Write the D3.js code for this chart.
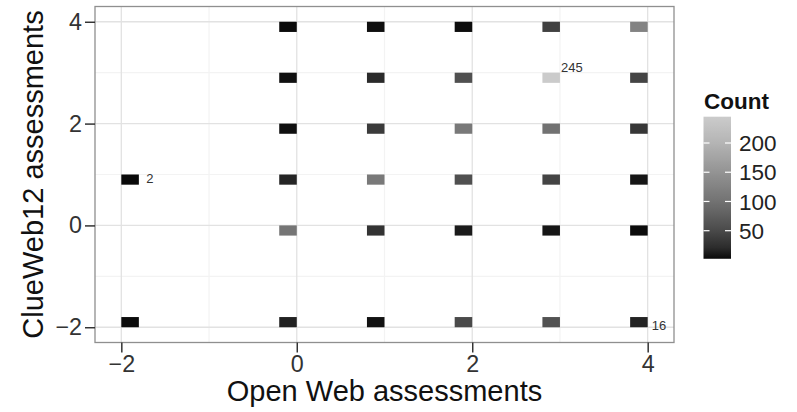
<!DOCTYPE html>
<html>
<head>
<meta charset="utf-8">
<script src="https://cdn.jsdelivr.net/npm/d3@7"></script>
<style>
  html, body { margin: 0; padding: 0; background: #fff; }
  svg { display: block; font-family: "Liberation Sans", Arial, Helvetica, sans-serif; }
</style>
</head>
<body>
<svg id="chart" width="797" height="412"></svg>
<script>
// Paired assessments: Open Web (x) vs ClueWeb12 (y), with the number of documents per pair
const openWeb  = [0, 1, 2, 3, 4,   0, 1, 2, 3, 4,   0, 1, 2, 3, 4,   -2, 0, 1, 2, 3, 4,   0, 1, 2, 3, 4,   -2, 0, 1, 2, 3, 4];
const clueWeb  = [4, 4, 4, 4, 4,   3, 3, 3, 3, 3,   2, 2, 2, 2, 2,    1, 1, 1, 1, 1, 1,   0, 0, 0, 0, 0,   -2, -2, -2, -2, -2, -2];
const counts   = [3, 5, 4, 42, 125, 6, 20, 58, 245, 44, 5, 36, 110, 100, 32, 2, 17, 110, 58, 44, 9, 105, 28, 12, 9, 3, 3, 15, 7, 50, 60, 16];

// Annotated cells
const noteX    = [-2, 3, 4];
const noteY    = [1, 3, -2];
const noteText = ["2", "245", "16"];

// Axis breaks and legend breaks
const xTicks      = [-2, 0, 2, 4];
const yTicks      = [-2, 0, 2, 4];
const legendTicks = [50, 100, 150, 200];

const svg = d3.select("#chart");

const panel = { left: 95, right: 674, top: 6.5, bottom: 342.5 };
const x = d3.scaleLinear().domain([-2.3, 4.3]).range([panel.left, panel.right]);
const y = d3.scaleLinear().domain([-2.3, 4.3]).range([panel.bottom, panel.top]);

// 2d bins of width 0.2 over [-2, 4], right-closed, first bin includes the lower edge
const binLo = -2, binW = 0.2;
function binOf(v) {
  let i = Math.ceil((v - binLo) / binW - 1e-9) - 1;
  if (i < 0) i = 0;
  return [binLo + i * binW, binLo + (i + 1) * binW];
}

const cMin = d3.min(counts), cMax = d3.max(counts);
// Grey ramp, anchored at the legend breaks
const fill = d3.scaleLinear()
  .domain([cMin, 20, 50, 100, 150, 200, cMax])
  .range(["#090909", "#2a2a2a", "#4a4a4a", "#727272", "#939393", "#b4b4b4", "#cbcbcb"])
  .interpolate(d3.interpolateRgb);

// Panel background and grid
svg.append("rect")
  .attr("x", panel.left).attr("y", panel.top)
  .attr("width", panel.right - panel.left).attr("height", panel.bottom - panel.top)
  .attr("fill", "#fff");

const minor = [-1, 1, 3];
const grid = svg.append("g");
grid.selectAll(".vminor").data(minor).join("line")
  .attr("x1", d => x(d)).attr("x2", d => x(d))
  .attr("y1", panel.top).attr("y2", panel.bottom)
  .attr("stroke", "#f3f3f3").attr("stroke-width", 1.2);
grid.selectAll(".hminor").data(minor).join("line")
  .attr("y1", d => y(d)).attr("y2", d => y(d))
  .attr("x1", panel.left).attr("x2", panel.right)
  .attr("stroke", "#f3f3f3").attr("stroke-width", 1.2);
grid.selectAll(".vmajor").data(xTicks).join("line")
  .attr("x1", d => x(d)).attr("x2", d => x(d))
  .attr("y1", panel.top).attr("y2", panel.bottom)
  .attr("stroke", "#e2e2e2").attr("stroke-width", 1.3);
grid.selectAll(".hmajor").data(yTicks).join("line")
  .attr("y1", d => y(d)).attr("y2", d => y(d))
  .attr("x1", panel.left).attr("x2", panel.right)
  .attr("stroke", "#e2e2e2").attr("stroke-width", 1.3);

// Tiles
const cells = counts.map((c, i) => ({ ox: openWeb[i], cy: clueWeb[i], n: c }));
svg.append("g").selectAll("rect").data(cells).join("rect")
  .attr("x", d => x(binOf(d.ox)[0]))
  .attr("width", d => x(binOf(d.ox)[1]) - x(binOf(d.ox)[0]))
  .attr("y", d => y(binOf(d.cy)[1]))
  .attr("height", d => y(binOf(d.cy)[0]) - y(binOf(d.cy)[1]))
  .attr("fill", d => fill(d.n));

// Cell annotations
const noteOffset = [[25, 8.5], [1, -1], [4, 3]];
svg.append("g").selectAll("text").data(noteText).join("text")
  .attr("x", (d, i) => x(noteX[i]) + noteOffset[i][0])
  .attr("y", (d, i) => y(noteY[i]) + noteOffset[i][1])
  .attr("font-size", 13).attr("fill", "#333")
  .text(d => d);

// Panel border
svg.append("rect")
  .attr("x", panel.left).attr("y", panel.top)
  .attr("width", panel.right - panel.left).attr("height", panel.bottom - panel.top)
  .attr("fill", "none").attr("stroke", "#8f8f8f").attr("stroke-width", 1.3);

// Axes
const intFmt = d3.format("d");
const xAxis = svg.append("g")
  .attr("transform", `translate(0,${panel.bottom})`)
  .call(d3.axisBottom(x).tickValues(xTicks).tickFormat(intFmt).tickSize(10).tickPadding(3));
const yAxis = svg.append("g")
  .attr("transform", `translate(${panel.left},0)`)
  .call(d3.axisLeft(y).tickValues(yTicks).tickFormat(intFmt).tickSize(10).tickPadding(3));
[xAxis, yAxis].forEach(a => {
  a.select(".domain").remove();
  a.selectAll(".tick line").attr("stroke", "#333").attr("stroke-width", 1.5);
  a.selectAll(".tick text").attr("font-size", 23.3).attr("fill", "#333")
    .attr("font-family", "Liberation Sans, Arial, sans-serif");
});

// Axis titles
svg.append("text")
  .attr("x", (panel.left + panel.right) / 2).attr("y", 401)
  .attr("text-anchor", "middle").attr("font-size", 29).attr("fill", "#111")
  .text("Open Web assessments");
svg.append("text")
  .attr("transform", `translate(43,${(panel.top + panel.bottom) / 2}) rotate(-90)`)
  .attr("text-anchor", "middle").attr("font-size", 29).attr("fill", "#111")
  .text("ClueWeb12 assessments");

// Colour bar legend
const bar = { x: 703.5, w: 27.5 };
const ly = d3.scaleLinear().domain([50, 200]).range([230.7, 143]);
const defs = svg.append("defs");
const grad = defs.append("linearGradient").attr("id", "countGrad")
  .attr("x1", 0).attr("y1", 1).attr("x2", 0).attr("y2", 0);
d3.range(0, 1.0001, 0.02).forEach(t => {
  grad.append("stop").attr("offset", t).attr("stop-color", fill(cMin + t * (cMax - cMin)));
});
svg.append("text")
  .attr("x", 704).attr("y", 109)
  .attr("font-size", 22.5).attr("font-weight", "bold").attr("fill", "#111")
  .text("Count");
svg.append("rect")
  .attr("x", bar.x).attr("width", bar.w)
  .attr("y", ly(cMax)).attr("height", ly(cMin) - ly(cMax))
  .attr("fill", "url(#countGrad)");
const lt = svg.append("g");
lt.selectAll(".tl").data(legendTicks).join("line")
  .attr("x1", bar.x).attr("x2", bar.x + 6)
  .attr("y1", d => ly(d)).attr("y2", d => ly(d))
  .attr("stroke", "#fff").attr("stroke-width", 1.2);
lt.selectAll(".tr").data(legendTicks).join("line")
  .attr("x1", bar.x + bar.w - 6).attr("x2", bar.x + bar.w)
  .attr("y1", d => ly(d)).attr("y2", d => ly(d))
  .attr("stroke", "#fff").attr("stroke-width", 1.2);
lt.selectAll("text").data(legendTicks).join("text")
  .attr("x", 739).attr("y", d => ly(d)).attr("dy", "0.36em")
  .attr("font-size", 22.5).attr("fill", "#222")
  .text(d => d);
</script>
</body>
</html>
